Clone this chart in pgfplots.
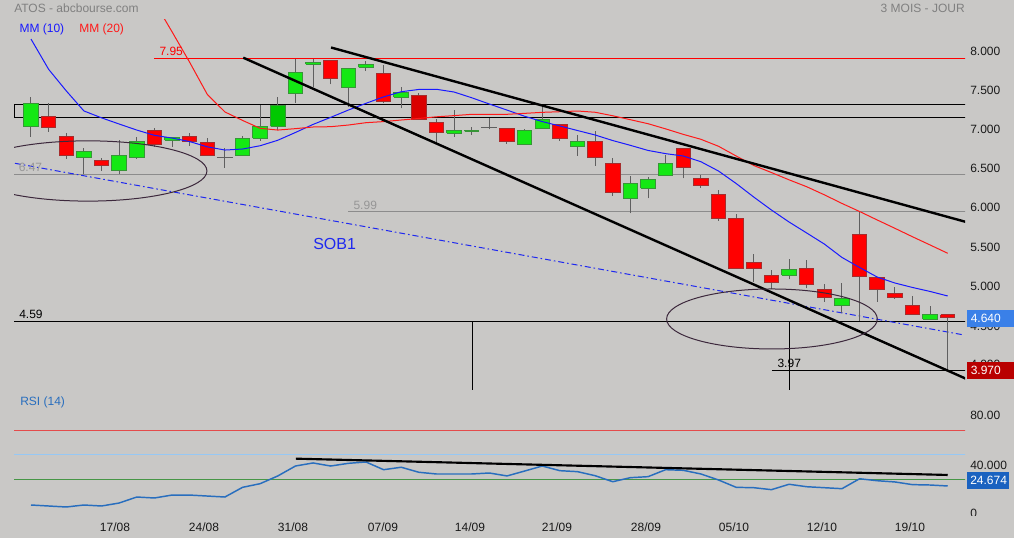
\documentclass[border=0pt]{standalone}
\usepackage{fontspec}
\setmainfont{Liberation Sans}
\usepackage{pgfplots}
\pgfplotsset{compat=1.18}

\definecolor{bgc}{RGB}{201,200,198}
\definecolor{upfill}{RGB}{20,232,20}
\definecolor{updark}{RGB}{0,200,0}
\definecolor{updraw}{RGB}{55,150,55}
\definecolor{dnfill}{RGB}{255,0,0}
\definecolor{dndark}{RGB}{218,0,0}
\definecolor{dndraw}{RGB}{165,45,45}
\definecolor{wick}{RGB}{95,95,95}
\definecolor{mmblue}{RGB}{25,25,255}
\definecolor{mmred}{RGB}{255,25,25}
\definecolor{hgray}{RGB}{140,140,140}
\definecolor{lblgray}{RGB}{150,150,150}
\definecolor{ttlgray}{RGB}{128,128,128}
\definecolor{ellc}{RGB}{60,40,60}
\definecolor{sobblue}{RGB}{30,40,240}
\definecolor{rsiline}{RGB}{40,110,190}
\definecolor{rsired}{RGB}{228,75,75}
\definecolor{rsiblue}{RGB}{150,200,245}
\definecolor{rsigreen}{RGB}{70,150,70}
\definecolor{boxblue}{RGB}{58,128,232}
\definecolor{boxred}{RGB}{185,0,0}
\definecolor{boxrsi}{RGB}{26,98,192}

\newcommand{\tf}{\fontsize{9}{10.8}\selectfont}

% candle: [extra style]{i}{open}{high}{low}{close}
\newcommand{\candle}[6][]{%
  \pgfmathsetmacro\cxl{#2-0.41}\pgfmathsetmacro\cxr{#2+0.41}%
  \addplot[color=wick, line width=0.75pt] coordinates {(#2,#5)(#2,#4)};
  \pgfmathparse{#6>=#3 ? 1 : 0}%
  \ifdim\pgfmathresult pt>0.5pt
    \addplot[draw=updraw, fill=upfill, line width=0.75pt, #1] coordinates {(\cxl,#3)(\cxr,#3)(\cxr,#6)(\cxl,#6)(\cxl,#3)};
  \else
    \addplot[draw=dndraw, fill=dnfill, line width=0.75pt, #1] coordinates {(\cxl,#3)(\cxr,#3)(\cxr,#6)(\cxl,#6)(\cxl,#3)};
  \fi
}
% doji: {i}{open=close}{high}{low}
\newcommand{\doji}[4]{%
  \pgfmathsetmacro\cxl{#1-0.45}\pgfmathsetmacro\cxr{#1+0.45}%
  \addplot[color=wick, line width=0.75pt] coordinates {(#1,#4)(#1,#3)};
  \addplot[color=wick, line width=0.9pt] coordinates {(\cxl,#2)(\cxr,#2)};
}

\begin{document}
\begin{tikzpicture}
\path[use as bounding box, fill=bgc] (0,0) rectangle (760.5pt,-403.5pt);

% ---------------- price panel ----------------
\begin{axis}[at={(10.5pt,-15pt)}, anchor=north west, scale only axis,
  width=713.25pt, height=277.5pt,
  xmin=-0.964, xmax=52.98, ymin=3.719, ymax=8.439, hide axis]

% horizontal levels
\addplot[color=red, line width=0.75pt] coordinates {(6.98,7.95)(53.5,7.95)};
\addplot[color=black, line width=0.75pt] coordinates {(53.5,7.363)(-0.93,7.363)(-0.93,7.197)(53.5,7.197)};
\addplot[color=hgray, line width=0.75pt] coordinates {(-1,6.47)(53.5,6.47)};
\addplot[color=hgray, line width=0.75pt] coordinates {(18.0,5.99)(53.5,5.99)};
\addplot[color=black, line width=0.75pt] coordinates {(-1,4.59)(53.5,4.59)};
\addplot[color=black, line width=0.75pt] coordinates {(42.03,3.97)(53.5,3.97)};
\addplot[color=black, line width=0.75pt] coordinates {(25.05,4.59)(25.05,3.6)};
\addplot[color=black, line width=0.75pt] coordinates {(43.02,4.59)(43.02,3.6)};

% support line SOB1
\addplot[color=sobblue, line width=0.75pt, dash pattern=on 4.5pt off 2.2pt on 1.2pt off 2.2pt]
  coordinates {(-0.91,6.611)(52.92,4.421)};

% candles
\candle{0}{7.078}{7.453}{6.95}{7.376}
\candle{1}{7.205}{7.376}{7.014}{7.065}
\candle{2}{6.959}{7.001}{6.666}{6.708}
\candle{3}{6.682}{6.81}{6.47}{6.764}
\candle{4}{6.649}{6.674}{6.516}{6.58}
\candle{5}{6.516}{6.908}{6.474}{6.713}
\candle{6}{6.682}{6.95}{6.666}{6.895}
\candle{7}{7.023}{7.057}{6.823}{6.848}
\candle{8}{6.904}{6.95}{6.823}{6.946}
\candle{9}{6.959}{6.993}{6.831}{6.886}
\candle{10}{6.882}{6.937}{6.708}{6.708}
\doji{11}{6.682}{6.802}{6.555}
\candle{12}{6.713}{6.959}{6.713}{6.93}
\candle{13}{6.93}{7.354}{6.899}{7.083}
\candle[fill=updark]{14}{7.083}{7.453}{7.035}{7.354}
\candle{15}{7.503}{7.941}{7.384}{7.771}
\candle{16}{7.873}{7.94}{7.588}{7.899}
\candle{17}{7.919}{7.919}{7.618}{7.695}
\candle{18}{7.58}{7.822}{7.333}{7.822}
\candle{19}{7.835}{7.919}{7.792}{7.873}
\candle{20}{7.759}{7.864}{7.376}{7.396}
\candle{21}{7.453}{7.58}{7.312}{7.516}
\candle[fill=dndark]{22}{7.478}{7.503}{7.172}{7.172}
\candle{23}{7.134}{7.176}{6.873}{7.006}
\candle{24}{6.993}{7.29}{6.95}{7.035}
\candle{25}{7.019}{7.07}{6.972}{7.035}
\doji{26}{7.065}{7.192}{7.044}
\candle{27}{7.057}{7.057}{6.861}{6.886}
\candle{28}{6.853}{7.048}{6.853}{7.035}
\candle{29}{7.057}{7.333}{7.057}{7.176}
\candle{30}{7.108}{7.108}{6.899}{6.93}
\candle{31}{6.823}{6.972}{6.708}{6.895}
\candle{32}{6.895}{7.023}{6.58}{6.687}
\candle{33}{6.61}{6.682}{6.198}{6.236}
\candle{34}{6.164}{6.449}{5.973}{6.356}
\candle{35}{6.292}{6.44}{6.164}{6.407}
\candle{36}{6.461}{6.717}{6.461}{6.61}
\candle{37}{6.802}{6.802}{6.419}{6.56}
\candle{38}{6.419}{6.461}{6.3}{6.334}
\candle{39}{6.215}{6.27}{5.879}{5.904}
\candle{40}{5.909}{5.964}{5.271}{5.271}
\candle{41}{5.348}{5.454}{5.10}{5.271}
\candle{42}{5.177}{5.25}{5.004}{5.093}
\candle{43}{5.182}{5.39}{5.131}{5.259}
\candle{44}{5.271}{5.377}{5.016}{5.067}
\candle{45}{5.004}{5.067}{4.845}{4.902}
\candle{46}{4.794}{5.088}{4.697}{4.889}
\candle{47}{5.709}{5.986}{4.599}{5.164}
\candle{48}{5.157}{5.157}{4.845}{5.004}
\candle{49}{4.953}{5.029}{4.88}{4.897}
\candle{50}{4.8}{4.918}{4.685}{4.685}
\candle{51}{4.621}{4.79}{4.621}{4.685}
\candle{52}{4.676}{4.676}{3.974}{4.641}

% moving averages
\addplot[color=mmblue, line width=0.75pt] coordinates {
(0,8.196)(1,7.81)(2,7.535)(3,7.279)(4,7.191)(5,7.112)(6,7.035)(7,6.968)(8,6.933)(9,6.888)
(10,6.821)(11,6.78)(12,6.793)(13,6.835)(14,6.905)(15,7.004)(16,7.107)(17,7.197)(18,7.29)(19,7.376)
(20,7.458)(21,7.524)(22,7.553)(23,7.555)(24,7.52)(25,7.447)(26,7.367)(27,7.29)(28,7.211)(29,7.143)
(30,7.087)(31,7.029)(32,6.972)(33,6.901)(34,6.84)(35,6.775)(36,6.734)(37,6.704)(38,6.631)(39,6.512)
(40,6.353)(41,6.18)(42,6.015)(43,5.862)(44,5.722)(45,5.581)(46,5.41)(47,5.282)(48,5.16)(49,5.084)
(50,5.027)(51,4.976)(52,4.918)};
\addplot[color=mmred, line width=0.75pt] coordinates {
(6,9.05)(7,8.67)(8,8.289)(9,7.90)(10,7.49)(11,7.266)(12,7.158)(13,7.057)(14,7.035)(15,7.053)
(16,7.074)(17,7.078)(18,7.099)(19,7.129)(20,7.143)(21,7.163)(22,7.183)(23,7.204)(24,7.219)(25,7.236)
(26,7.236)(27,7.236)(28,7.248)(29,7.261)(30,7.269)(31,7.278)(32,7.262)(33,7.217)(34,7.167)(35,7.116)
(36,7.05)(37,6.98)(38,6.917)(39,6.828)(40,6.704)(41,6.583)(42,6.493)(43,6.40)(44,6.312)(45,6.209)
(46,6.099)(47,5.996)(48,5.888)(49,5.782)(50,5.674)(51,5.569)(52,5.463)};

% channel lines
\addplot[color=black, line width=1.8pt] coordinates {(17.02,8.088)(53.1,5.859)};
\addplot[color=black, line width=1.8pt] coordinates {(12.04,7.958)(53.1,3.856)};

% ellipses
\draw[color=ellc, line width=0.75pt] (axis cs:3.23,6.513) ellipse [x radius=89.25pt, y radius=22.6pt];
\draw[color=ellc, line width=0.75pt] (axis cs:42.03,4.625) ellipse [x radius=79pt, y radius=22.5pt];
\end{axis}

% ---------------- RSI panel ----------------
\begin{axis}[at={(10.5pt,-292.5pt)}, anchor=north west, scale only axis,
  width=713.25pt, height=94.5pt,
  xmin=-0.964, xmax=52.98, ymin=0, ymax=102.86, hide axis]
\addplot[color=rsired, line width=0.75pt] coordinates {(-1,70)(53.5,70)};
\addplot[color=rsiblue, line width=0.75pt] coordinates {(-1,50)(53.5,50)};
\addplot[color=rsigreen, line width=0.75pt] coordinates {(-1,30)(53.5,30)};
\addplot[color=rsiline, line width=1.1pt] coordinates {
(0,8.98)(1,8.16)(2,7.35)(3,8.98)(4,8.16)(5,10.6)(6,15.5)(7,14.7)(8,17.1)(9,17.1)
(10,16.3)(11,15.5)(12,23.4)(13,26.4)(14,32.7)(15,40.8)(16,43.3)(17,40.8)(18,43.0)(19,44.1)
(20,37.8)(21,39.8)(22,35.7)(23,34.3)(24,34.3)(25,34.3)(26,35.1)(27,32.7)(28,36.7)(29,40.8)
(30,37.0)(31,36.2)(32,32.9)(33,28.0)(34,31.3)(35,32.1)(36,37.8)(37,37.3)(38,34.3)(39,29.4)
(40,23.4)(41,23.1)(42,21.5)(43,25.9)(44,23.9)(45,23.1)(46,22.3)(47,30.4)(48,28.8)(49,27.8)
(50,25.6)(51,25.3)(52,24.5)};
\addplot[color=black, line width=1.6pt] coordinates {(15.03,46.8)(52,33.5)};
\end{axis}

% ---------------- labels ----------------
\begin{scope}[x=0.75pt, y=-0.75pt, every node/.style={inner sep=0pt, font=\tf}]
\node[anchor=west, text=ttlgray] at (14,8.3) {ATOS - abcbourse.com};
\node[anchor=east, text=ttlgray] at (965,8.3) {3 MOIS - JOUR};
\node[anchor=west, text=mmblue] at (19.3,29.3) {MM (10)};
\node[anchor=west, text=mmred] at (79,29.3) {MM (20)};
\node[anchor=west, text=red] at (159.3,51.7) {7.95};
\node[anchor=west, text=lblgray] at (18.5,167.5) {6.47};
\node[anchor=west, text=lblgray] at (353.3,205.7) {5.99};
\node[anchor=west, text=black] at (19,314.7) {4.59};
\node[anchor=west, text=black] at (777.3,363.3) {3.97};
\node[anchor=west, text=sobblue, font=\fontsize{12}{14}\selectfont] at (313,244) {SOB1};
\node[anchor=west, text=rsiline] at (20,402.7) {RSI (14)};
% price scale
\foreach \v/\yy in {8.000/51,7.500/90.3,7.000/129.5,6.500/168.5,6.000/207.7,5.500/247.5,5.000/286.7,4.500/326.5,4.000/364}
  \node[anchor=west, text=black!90] at (970,\yy) {\v};
\fill[boxblue] (967,310) rectangle (1014,327);
\node[anchor=west, text=white] at (970.5,318.5) {4.640};
\fill[boxred] (967,362) rectangle (1014,379);
\node[anchor=west, text=white] at (970.5,370.5) {3.970};
% rsi scale
\node[anchor=west, text=black!90] at (970,415.7) {80.00};
\node[anchor=west, text=black!90] at (970,465) {40.000};
\node[anchor=west, text=black!90] at (970,513.5) {0};
\fill[bgc] (965,516) rectangle (1014,522);
\fill[boxrsi] (967,471.5) rectangle (1009,489);
\node[anchor=west, text=white] at (970,480.3) {24.674};
% dates
\node[text=black!90] at (115,527) {17/08};
\node[text=black!90] at (204,527) {24/08};
\node[text=black!90] at (293,527) {31/08};
\node[text=black!90] at (383,527) {07/09};
\node[text=black!90] at (470,527) {14/09};
\node[text=black!90] at (557,527) {21/09};
\node[text=black!90] at (646,527) {28/09};
\node[text=black!90] at (734,527) {05/10};
\node[text=black!90] at (822,527) {12/10};
\node[text=black!90] at (910,527) {19/10};
\end{scope}
\end{tikzpicture}
\end{document}
